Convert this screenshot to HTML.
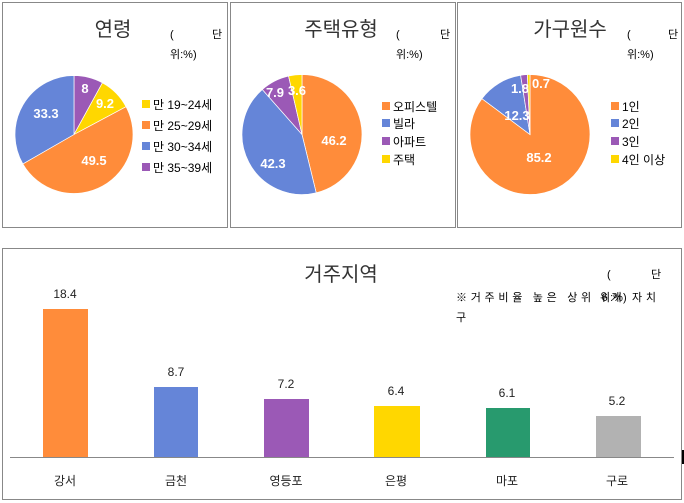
<!DOCTYPE html>
<html><head><meta charset="utf-8"><style>
html,body{margin:0;padding:0;background:#fff;width:684px;height:503px;overflow:hidden}
svg{font-family:"Liberation Sans","Noto Sans CJK KR",sans-serif}
</style></head><body>
<svg id="s" width="684" height="503" viewBox="0 0 684 503" xmlns="http://www.w3.org/2000/svg">
<rect x="2.5" y="2.5" width="225" height="225" fill="none" stroke="#888"/>
<rect x="230.5" y="2.5" width="225" height="225" fill="none" stroke="#888"/>
<rect x="457.5" y="2.5" width="224" height="225" fill="none" stroke="#888"/>
<rect x="2.5" y="248.5" width="679" height="251" fill="none" stroke="#888"/>
<g id="pies"></g>
<g font-size="20" fill="#333" text-anchor="middle">
<text x="113" y="36">연령</text><text x="341" y="36">주택유형</text><text x="570" y="36">가구원수</text>
<text x="341" y="281">거주지역</text></g>
<g font-size="11" fill="#000">
<text x="170" y="38">(</text><text x="212" y="38">단</text><text x="170" y="58">위:%)</text>
<text x="396" y="38">(</text><text x="440" y="38">단</text><text x="396" y="58">위:%)</text>
<text x="627" y="38">(</text><text x="668" y="38">단</text><text x="627" y="58">위:%)</text>
<text x="607" y="278">(</text><text x="651" y="278">단</text>
<text x="456" y="301" textLength="200" lengthAdjust="spacing">※거주비율 높은 상위 6개 자치</text><text x="600" y="301">위:%)</text><text x="456" y="321">구</text>
</g>
<g font-size="13" font-weight="bold" fill="#fff" text-anchor="middle">
<text x="85" y="93">8</text><text x="105" y="108">9.2</text><text x="46" y="118">33.3</text><text x="94" y="165">49.5</text>
<text x="334" y="145">46.2</text><text x="273" y="168">42.3</text><text x="275" y="97">7.9</text><text x="297" y="95">3.6</text>
<text x="539" y="162">85.2</text><text x="517" y="120">12.3</text><text x="520" y="93">1.8</text><text x="541" y="88">0.7</text>
</g>
<g font-size="12" fill="#000">
<rect x="142" y="100" width="8" height="8" fill="#ffd700"/><text x="153" y="109">만 19~24세</text>
<rect x="142" y="121" width="8" height="8" fill="#ff8c3a"/><text x="153" y="130">만 25~29세</text>
<rect x="142" y="142" width="8" height="8" fill="#6585d8"/><text x="153" y="151">만 30~34세</text>
<rect x="142" y="163" width="8" height="8" fill="#9b59b6"/><text x="153" y="172">만 35~39세</text>
<rect x="382" y="102" width="8" height="8" fill="#ff8c3a"/><text x="393" y="111">오피스텔</text>
<rect x="382" y="119" width="8" height="8" fill="#6585d8"/><text x="393" y="128">빌라</text>
<rect x="382" y="137" width="8" height="8" fill="#9b59b6"/><text x="393" y="146">아파트</text>
<rect x="382" y="155" width="8" height="8" fill="#ffd700"/><text x="393" y="164">주택</text>
<rect x="611" y="102" width="8" height="8" fill="#ff8c3a"/><text x="622" y="111">1인</text>
<rect x="611" y="119" width="8" height="8" fill="#6585d8"/><text x="622" y="128">2인</text>
<rect x="611" y="137" width="8" height="8" fill="#9b59b6"/><text x="622" y="146">3인</text>
<rect x="611" y="155" width="8" height="8" fill="#ffd700"/><text x="622" y="164">4인 이상</text>
</g>
<rect x="43" y="309" width="45" height="148" fill="#ff8c3a"/>
<rect x="154" y="387" width="44" height="70" fill="#6585d8"/>
<rect x="264" y="399" width="45" height="58" fill="#9b59b6"/>
<rect x="374" y="406" width="46" height="51" fill="#ffd700"/>
<rect x="486" y="408" width="44" height="49" fill="#289a6e"/>
<rect x="596" y="416" width="45" height="41" fill="#b2b2b2"/>
<line x1="10" y1="457.5" x2="674" y2="457.5" stroke="#888"/>
<rect x="682" y="450" width="2" height="14" fill="#000"/>
<g font-size="12" fill="#222" text-anchor="middle">
<text x="65" y="298">18.4</text><text x="176" y="376">8.7</text><text x="286" y="388">7.2</text>
<text x="396" y="395">6.4</text><text x="507" y="397">6.1</text><text x="617" y="405">5.2</text>
<text x="65" y="485">강서</text><text x="176" y="485">금천</text><text x="286" y="485">영등포</text>
<text x="396" y="485">은평</text><text x="507" y="485">마포</text><text x="617" y="485">구로</text>
</g>
</svg>
<script>
var g=document.getElementById('pies');
function pie(cx,cy,r,data){var a=0,t=data.reduce(function(s,d){return s+d[0]},0);
data.forEach(function(d){var a0=a/t*2*Math.PI,a1=(a+d[0])/t*2*Math.PI;a+=d[0];
var x0=cx+r*Math.sin(a0),y0=cy-r*Math.cos(a0),x1=cx+r*Math.sin(a1),y1=cy-r*Math.cos(a1);
var p=document.createElementNS('http://www.w3.org/2000/svg','path');
p.setAttribute('d','M'+cx+','+cy+'L'+x0+','+y0+'A'+r+','+r+' 0 '+((a1-a0)>Math.PI?1:0)+' 1 '+x1+','+y1+'Z');
p.setAttribute('fill',d[1]);p.setAttribute('stroke','#fff');p.setAttribute('stroke-width','0.7');g.appendChild(p);});}
var O='#ff8c3a',B='#6585d8',P='#9b59b6',Y='#ffd700';
pie(74,134.5,59,[[8,P],[9.2,Y],[49.5,O],[33.3,B]]);
pie(302,134.5,60,[[46.2,O],[42.3,B],[7.9,P],[3.6,Y]]);
pie(530,134.5,60,[[85.2,O],[12.3,B],[1.8,P],[0.7,Y]]);
</script>
</body></html>
